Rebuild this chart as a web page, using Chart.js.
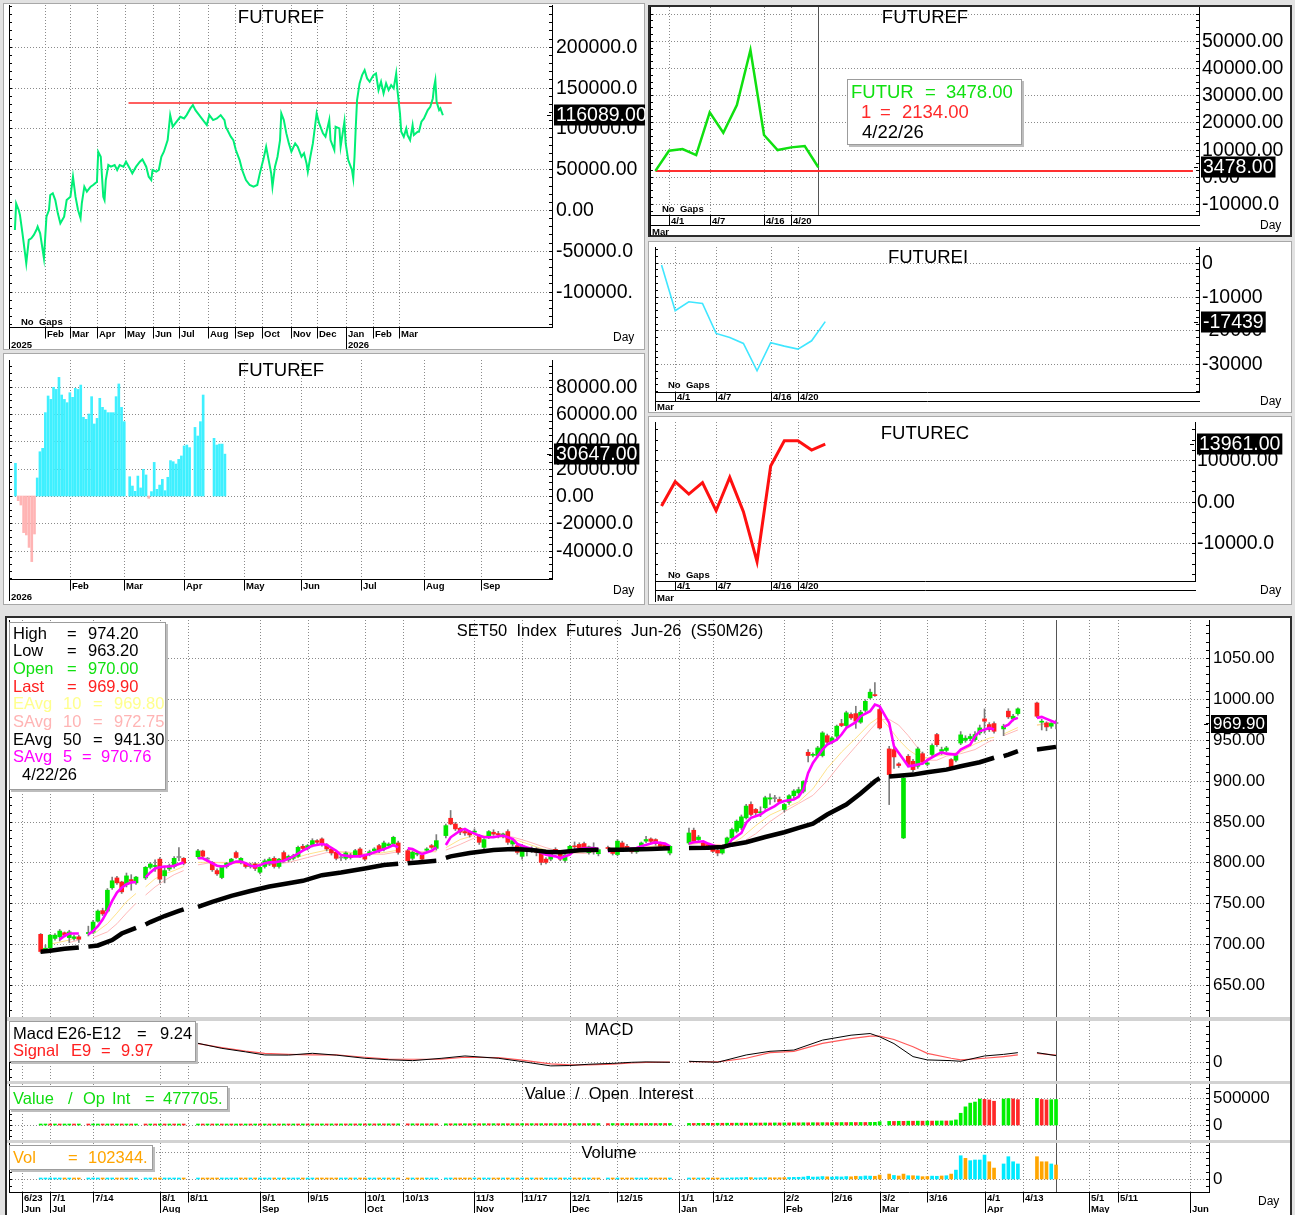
<!DOCTYPE html>
<html>
<head>
<meta charset="utf-8">
<title>SET50 Index Futures Jun-26 (S50M26)</title>
<script src="https://cdn.jsdelivr.net/npm/chart.js@4.4.0/dist/chart.umd.min.js"></script>
<style>
  html, body { margin: 0; padding: 0; background: #e2e2e2; }
  #page { position: relative; width: 1295px; height: 1215px; overflow: hidden; background: #e2e2e2; }
  .panel { position: absolute; box-sizing: border-box; background: #fff; border: 1px solid #a8a8a8; }
  .panel.sel { border: 2px solid #2c2c2c; }
  .band { position: absolute; background: #d2d2d2; }
  canvas { position: absolute; }
</style>
</head>
<body>
<div id="page">
  <div class="panel" style="left:3px;top:3px;width:642px;height:347px"></div>
  <div class="panel" style="left:3px;top:353px;width:642px;height:252px"></div>
  <div class="panel sel" style="left:648px;top:5px;width:644px;height:232px"></div>
  <div class="panel" style="left:648px;top:241px;width:644px;height:172px"></div>
  <div class="panel" style="left:648px;top:416px;width:644px;height:189px"></div>
  <div class="panel sel" style="left:5px;top:616px;width:1287px;height:602px"></div>
  <div class="band" style="left:7px;top:1017px;width:1283px;height:4px"></div>
  <div class="band" style="left:7px;top:1081px;width:1283px;height:3px"></div>
  <div class="band" style="left:7px;top:1140px;width:1283px;height:3px"></div>
</div>
<script>
// ── DATA ─────────────────────────────────────────────────────────
// top-left FUTUREF (cumulative), x = weekday index counted from 1/1/2025
const futurefCum = [
  [-1,-24500],[0,8000],[2,0],[3,-6000],[5,-28600],[7,-53000],[8,-65300],[10,-36700],[12,-34700],[14,-30600],
  [16,-24500],[17,-20400],[19,-28600],[21,-49000],[22,-59200],[24,-8200],[26,0],[27,18400],[29,20400],[31,12200],
  [33,-4100],[35,-16300],[38,-8200],[40,12200],[43,16300],[45,40800],[47,16300],[49,0],[51,-10200],[52,8200],
  [54,28600],[56,22400],[59,28600],[61,30600],[64,34700],[65,71400],[67,65300],[69,16300],[70,12200],[71,36700],
  [73,55100],[75,53100],[78,55100],[80,49000],[82,55100],[85,53100],[87,59200],[90,51000],[92,44900],[95,53100],
  [98,59200],[100,62000],[103,53100],[105,40800],[107,36700],[108,49000],[111,46900],[113,49000],[115,65300],[117,71400],
  [120,85700],[122,116300],[124,102000],[126,106100],[128,110200],[130,114300],[133,112200],[135,116300],[138,124500],[140,128600],
  [142,122400],[145,116300],[148,110200],[151,104100],[153,116300],[156,110200],[159,112200],[162,116300],[165,110200],[166,102000],
  [170,89800],[172,85700],[174,73500],[177,61200],[179,49000],[182,36700],[185,30600],[188,28600],[191,30600],[193,44900],
  [196,63300],[198,77600],[200,61200],[202,44900],[203,28600],[205,53100],[207,65300],[209,85700],[210,118400],[212,110200],
  [214,93900],[216,81600],[218,71400],[221,81600],[223,77600],[226,65300],[228,69400],[230,57100],[231,46900],[233,65300],
  [235,81600],[238,118400],[240,106100],[243,93900],[245,89800],[248,110200],[249,85700],[252,73500],[253,102000],[256,100000],
  [257,77600],[260,108200],[261,81600],[263,61200],[266,49000],[267,38800],[268,65300],[269,102000],[270,134700],[272,155100],
  [274,165300],[276,171400],[278,161200],[280,157100],[283,165300],[285,167300],[287,146900],[289,157100],[291,142900],[293,155100],
  [295,146900],[297,153100],[299,149000],[301,167300],[302,146900],[304,118400],[305,95900],[307,89800],[309,100000],[310,91800],
  [312,85700],[314,104100],[315,91800],[318,95900],[319,95900],[321,108200],[323,112200],[326,122400],[328,126500],[330,136700],
  [331,151000],[332,159200],[333,132700],[335,122400],[336,124500],[338,116089]
];
const futurefRefLine = [[89,131100],[345,131100]];
const p1Ticks = [200000,150000,100000,50000,0,-50000,-100000];
const p1TickText = ['200000.0','150000.0','100000.0','50000.00','0.00','-50000.0','-100000.'];
const p1MonthIdx = [23,43,64,86,108,129,152,173,195,218,238,261,283,303];
const p1MonthText = ['Feb','Mar','Apr','May','Jun','Jul','Aug','Sep','Oct','Nov','Dec','Jan','Feb','Mar'];

// middle-left FUTUREF daily bars, x = weekday index counted from 1/1/2026
const futurefDaily = [
  [2,23900],[3,-3400],[4,-6600],[5,-26800],[6,-28500],[7,-37600],[8,-48000],[9,-27800],[10,13200],[11,32400],
  [12,34900],[13,61000],[14,73200],[15,70700],[16,79500],[17,78000],[18,86800],[19,73900],[20,70700],[21,68300],
  [22,75600],[23,72200],[24,78800],[25,78000],[26,81200],[27,57600],[28,56100],[29,60000],[30,72700],[31,52700],
  [32,56800],[33,71500],[34,64900],[35,62900],[36,61000],[37,61000],[38,61000],[39,72700],[40,82000],[41,64900],
  [42,54400],[44,14100],[45,7300],[46,3400],[47,14600],[48,5900],[49,19500],[50,15400],[51,-1700],[52,3200],
  [53,24600],[54,4900],[55,8000],[56,12200],[57,3900],[58,13700],[59,25900],[60,25100],[61,23400],[62,26800],
  [63,29300],[64,36600],[65,37300],[66,35400],[68,50200],[69,43900],[70,54400],[71,73900],[75,42200],[76,37300],
  [77,38000],[78,38000],[79,30647]
];
const p2Ticks = [80000,60000,40000,20000,0,-20000,-40000];
const p2TickText = ['80000.00','60000.00','40000.00','20000.00','0.00','-20000.0','-40000.0'];
const p2MonthIdx = [22,42,64,86,107,129,152,173];
const p2MonthText = ['Feb','Mar','Apr','May','Jun','Jul','Aug','Sep'];

// right column, last 13 sessions (3/31 .. 4/22/26)
const futurRecent = [2134,9560,10170,7970,23650,16180,26350,46570,15320,9800,10780,11270,3478];
const futurRef = 2134;
const futureI = [-690,-14200,-11550,-12040,-20930,-22110,-23890,-31980,-23690,-24680,-25570,-23100,-17439];
const futureC = [-1050,4840,1850,4600,-2180,5890,-2420,-14500,8630,14760,14760,12500,13961];
const recentTickIdx = [1,4,8,10];
const recentTickText = ['4/1','4/7','4/16','4/20'];
const p3Ticks = [50000,40000,30000,20000,10000,0,-10000];
const p3TickText = ['50000.00','40000.00','30000.00','20000.00','10000.00','0.00','-10000.0'];
const p4Ticks = [0,-10000,-20000,-30000];
const p4TickText = ['0','-10000','-20000','-30000'];
const p5Ticks = [10000,0,-10000];
const p5TickText = ['10000.00','0.00','-10000.0'];

// SET50 futures, x = weekday index counted from 6/23/2025, first candle at index 4
const firstIdx = 4;
const opens = [
  712,693,695.5,707,709,714,708,707,709,null,
  713,714.7,728,741,740.5,769,781,776,773,779,
  775,null,781,794,795,804,783.6,792,795,806,
  805,null,null,807,814,804,800,790,781.5,795,
  800,812,800,798,795,798,788,795,798,805,
  795,812,803,805,807.4,819.7,817,821.3,826.6,828.7,
  821.3,816.4,812.3,806,805,809,809,816.4,808.2,810,
  814.3,820.5,816.4,820.5,822.5,823.8,null,814.3,805,810,
  809,814.8,820.5,817.2,null,832.8,854,847,841.8,837.7,
  837.7,837,832.8,818.4,830.7,836.9,835,832.8,837.7,822.5,
  820.5,807.4,815,814.3,816.4,813,804,804,816,810,
  802.5,813.5,820,822,823,812,817,810.6,null,818,
  814,809.6,823.8,819.7,814,813,817.6,826,828.7,827.9,
  823.8,821.7,811.5,null,null,null,823.8,839.3,827.9,823.8,
  821.7,816.4,814.8,811.5,819.7,829.9,838,842.2,854.5,870.9,
  864.8,860.7,866.8,877.5,878,877,864.8,873.4,881.6,885,
  887,934.7,931,930.7,930.7,955,947,954.3,969.8,967.4,
  981,982,971.5,986,1001.2,1005,987,null,938.8,938,
  920.5,830,929.8,923.7,917.6,933,920,932,956.4,936,
  937,925.8,925,946,949.4,951.5,950.2,958.4,975.5,968.6,
  969.8,null,963.3,985,975.5,982,null,null,null,995,
  971.5,970.6,966.6,970
];
const highs = [
  713,699,712,713,718,715,717,711,711,null,
  722,729,742,744,768,782,783,777,787,785,
  783,null,795,800,803,806,794,798,807,818,
  806,null,null,816,815,806,801,792,796,800,
  805,814,806,800,799,800,796,804,806,807,
  805,814,809,810,820,822,822,829,828,830,
  823,818,814,809,813,811,816,818,810,815,
  818,822,826,824,832,826,null,816,814,813,
  811,818,822,834,null,847,863.5,849,843,841,
  839,841,834,829,839,840,838,836,840,828,
  822,822,818,819,818,815,806,813,818,812,
  811,821,825,824,825,820,824,817,null,820,
  816,828,826,822,816,818,825,832,830,829,
  825,823,821,null,null,null,842,842,833,826,
  823,818,816,819,831,842,852,858,871,874,
  866,868,881,884,882,880,872,883,889,892,
  900,938,934,942,960,957,954,968,975,985,
  983,991,986,999,1012,1020,989,null,942,941,
  922,905,932,926,941,935,924,945,958,941,
  942,927,933,960,955,957,960,968,987.8,971,
  972,null,969,988,981,989,null,null,null,996,
  975,972,971,974.2
];
const lows = [
  689,691,694,705,704,709,702,705,702,null,
  710,713,727,735,739,767,773,762,770,766,
  773,null,779,792,789,775,775,790,793,802,
  797,null,null,805,806,801,789,784,780,793,
  798,805,798,793,793,790,786,793,796,793,
  793,800,801,803,806,815,815,819,822,820,
  814,809,803,802,803,804,807,806,802,808,
  812,812,814,818,820,810,null,800,803,808,
  802,813,817,815,null,830,846,839,834,833,
  831,835,822,816,829,833,830,830,822,820,
  810,804,808,812,808,797,798,802,812,802,
  800,811,815,816,816,810,810,808,null,815,
  809,808,816,814,811,811,816,824,824,821,
  818,816,809,null,null,null,822,824,826,818,
  818,812,808,810,818,828,836,840,853,857,
  857,856,865,871,874,872,862,871,879,882,
  885,923,929,929,929,945,945,952,966,965,
  975,964,970,984,1000,1003,963,null,870.7,915,
  916,829,917,911,915,920,918,930,942,932,
  935,914,923,944,947,949,948,956,958,960,
  958,null,955,976,973,980,null,null,null,977,
  962,961,964,963.2
];
const closes = [
  691,695,711,711,716,711,715,709,706,null,
  714,727,740.5,737,766,777.5,775,764,783.5,777,
  782,null,794,798,796,779.5,790,796,805,806,
  799,null,null,814,807.5,804,791,786,795,799,
  804,806,805,795,797,792.6,794,802,804,795,
  804,802,807.4,808,818.4,817,820.5,826.6,824.6,822,
  816.4,811.5,805,805.5,811.5,806,814.3,808.2,804,813,
  816.4,814.3,823.8,822.5,830.7,812.3,null,802,812.3,811,
  804,816.4,818.4,826.6,null,845,847,841,837,836,
  833.6,838,824.6,827.9,837.7,834.8,834,834.8,824.6,826.6,
  812.3,820.5,816,817,812.3,800,800,811,813.5,804,
  809,819.7,819,818,818,819,818,815.6,null,817,
  811,826,817.6,815.6,813,816,823.8,828,825.8,823,
  819.7,817.6,819.7,null,null,null,836,825.8,831,819.7,
  819.7,813.5,811.5,817.6,829.9,840.2,850.4,855.7,868.9,858.6,
  860.7,861.5,879.1,879,878.5,874,870.9,881.6,887.3,889,
  899,930.7,932,940,958.4,947,952.3,966.6,967.4,983,
  976.8,972.7,983.7,997,1008.2,1004,964.5,null,907.4,929,
  918.5,903,919.7,913.5,938.8,922.5,921.7,943,944,938,
  940,915.6,930.7,956,952,954,956.4,964.5,972.7,962.5,
  960.4,null,966.6,978,978.8,987.8,null,null,null,978.8,
  972.7,965.7,970,969.9
];
const volume = [
  6000,3000,4000,3000,3500,3000,4000,3000,3000,null,
  3000,4000,3500,3000,4500,4000,3000,3500,4000,3000,
  3000,null,3500,3000,3000,4500,4000,3000,3500,3000,
  3000,null,null,3500,3000,3000,4000,3500,4000,3000,
  3000,3500,3000,3000,3000,3500,3000,3000,3500,3000,
  3000,3500,3000,3000,3500,3000,3000,3500,3000,3000,
  3500,3000,3500,3000,3000,3000,3500,3000,3000,3000,
  3000,3000,3500,3000,3500,4000,null,4000,3500,3000,
  3000,3000,3000,3500,null,4000,4500,3500,3500,3000,
  3000,3000,3500,3500,3500,3000,3000,3000,3500,3000,
  3500,4000,3000,3000,3000,4000,3500,3500,3000,3500,
  3500,3500,3000,3000,3000,3500,3000,3000,null,3000,
  3000,4000,3500,3000,3000,3500,3500,4000,3000,3000,
  3500,3000,3500,null,null,null,5000,6000,5000,5500,
  5000,5500,6000,6000,7000,8000,9000,9500,11000,10000,
  8000,9000,10000,9000,8500,9000,10000,11000,12000,12500,
  14000,20000,14000,15000,18000,16000,14000,17000,15000,18000,
  16000,20000,18000,22000,21000,20000,29000,null,36000,26000,
  22000,36000,24000,24000,22000,17000,18000,21000,20000,22000,
  24000,36000,65000,170000,151000,134000,139000,139000,175000,126000,
  80000,null,110000,163000,126000,110000,null,null,null,163000,
  126000,126000,110000,102344
];
const openInt = [
  12000,12500,12000,12800,12400,13000,13500,13200,13800,null,
  13500,14000,14500,14200,14800,14500,15000,14700,15200,15000,
  15500,null,15200,15800,15500,16000,15800,16200,16000,16500,
  16200,null,null,16800,16500,17000,16800,17200,17000,17500,
  17200,17800,17500,18000,17800,18200,18000,18500,18200,18800,
  18500,19000,18800,19200,19000,19500,19200,19800,19500,20000,
  19800,20200,20000,20500,20200,20800,20500,21000,20800,21200,
  21000,21500,21200,21800,21500,22000,null,21800,22200,22000,
  22500,22200,22800,22500,null,23000,22800,23200,23000,23500,
  23200,23800,23500,24000,23800,24200,24000,24500,24200,24800,
  24500,25000,24800,25200,25000,25500,25200,25800,25500,26000,
  25800,26200,26000,26500,26200,26800,26500,27000,null,26800,
  27200,27000,27500,27200,27800,27500,28000,27800,28200,28000,
  28500,28200,28800,null,null,null,30000,29500,31000,30500,
  32000,31500,33000,32500,34000,33500,35000,34500,36000,35500,
  37000,36500,38000,37500,39000,38500,40000,39500,41000,40500,
  42000,41500,43000,42500,44000,43500,45000,44500,46000,45500,
  47000,46500,48000,47500,49000,50000,62000,null,68000,67000,
  70000,69000,72000,71000,73000,72000,74000,73000,75000,76000,
  75000,78000,95000,220000,340000,410000,430000,485000,480000,470000,
  445000,null,485000,495000,488000,475000,null,null,null,498000,
  478000,470000,474000,477705
];
// studies: [weekday index, value], null = break
const ema50Pts = [
  [4,690.6],[6,692],[9,694.3],[12,696],[13,null],[14,697],[16,698.4],[19,705],[21,713],[24,720],
  [25,null],[26,724],[27,727],[30,734.4],[33,740.6],[34,742.5],[35,null],[37,745.5],[40,751.6],[44,759],
  [48,765],[52,770.5],[56,774.6],[59,777.5],[63,784.4],[67,787.7],[72,792.6],[76,796.7],[79,798.4],[80,null],
  [81,799],[83,800],[87,802],[88,null],[89,805.5],[90,807.4],[94,811.5],[99,815.2],[103,816.4],[107,815.2],
  [110,813],[113,812.3],[117,814.8],[121,815.6],[122,null],[123,815.6],[126,815.6],[132,816.4],[136,817.2],[137,null],
  [140,817.5],[144,818],[147,818.9],[149,821.7],[152,824.6],[156,831.1],[160,836.9],[163,842.2],[166,847.5],[169,858.5],
  [173,870.7],[176,884.2],[179,899.3],[180,903],[181,null],[182,905],[184,906],[187,907.4],[190,910.3],[194,913.5],
  [197,917.6],[201,922.5],[204,928],[205,null],[206,930],[207,931.9],[209,936],[210,null],[213,938],[217,941.3]
];
const sma5Pts = [
  [8,705.7],[9,710],[10,713],[12,713],[13,null],[14,712],[15,716],[16,722],[17,730],[18,740.6],
  [19,753],[20,763],[21,769],[22,773.4],[23,775.4],[24,776],[25,null],[26,781.6],[27,787.7],[28,792.6],
  [29,794],[30,795],[31,795],[32,796],[33,798],[34,800],[35,null],[37,805],[38,805],[39,802],
  [40,799],[41,796],[42,795],[43,796],[44,799],[45,801],[46,801],[47,799],[48,796],[49,795],
  [50,796.7],[51,799],[52,800],[53,800],[54,801],[55,802],[57,807.4],[59,814.3],[61,820.5],[63,822.5],
  [64,821.3],[66,814.3],[67,809],[69,807.4],[71,807.4],[73,810.2],[75,814.3],[77,818.4],[78,821.3],[79,818.4],
  [80,null],[81,817.2],[82,816.4],[84,810.2],[86,814.3],[87,818.4],[88,null],[89,821.3],[90,830.7],[92,838.9],
  [93,841],[94,837.7],[96,832.8],[97,830.7],[99,830.7],[100,832],[101,832.8],[103,828.7],[104,822.5],[106,818.4],
  [107,816.4],[108,814.3],[110,809.5],[112,807.4],[113,805.3],[115,809.4],[116,814.8],[118,817.6],[120,817.6],[121,816.4],
  [122,null],[123,813.5],[125,815.6],[127,816.4],[129,817.6],[130,819.7],[132,823],[133,824.6],[135,823],[136,819.7],
  [137,null],[140,823],[141,824.6],[143,825.8],[144,823],[146,818.9],[147,817.6],[148,819.7],[149,827.9],[151,836],
  [152,848.4],[153,854.5],[155,858.6],[156,862.7],[158,868.9],[159,873],[160,875],[162,877],[163,880.3],[164,889],
  [165,909.5],[166,921.7],[168,938],[169,944],[171,950.2],[172,956.4],[173,964.5],[175,971.5],[176,978.8],[178,985],
  [179,993],[180,991],[182,970.6],[183,942],[185,925.8],[186,917.6],[187,918.4],[189,921],[190,925],[192,931.9],
  [193,934.7],[194,933],[196,931.9],[197,938],[199,944],[200,954.3],[201,960.4],[203,964.5],[204,962.5],[205,null],
  [206,965.7],[207,968.6],[208,974.7],[209,976.8],[210,null],[213,976.8],[214,978],[215,975.5],[217,970.76]
];
const ema10Pts = [
  [6,700],[10,705],[12,708],[13,null],[15,712],[18,725],[20,738],[22,752],[24,762],[25,null],
  [26,770],[28,780],[30,786],[32,790],[34,795],[35,null],[37,800],[40,800],[44,799],[48,798],
  [52,799],[56,803],[60,810],[64,815],[68,812],[72,810],[76,812],[79,815],[80,null],[81,813],
  [84,812],[87,814],[88,null],[89,818],[92,828],[95,833],[99,832],[103,829],[106,823],[110,815],
  [114,811],[118,813],[121,815],[122,null],[123,815],[126,816],[130,818],[134,821],[136,820],[137,null],
  [140,822],[142,824],[145,821],[148,820],[151,830],[154,845],[157,858],[160,866],[163,874],[166,890],
  [169,915],[172,935],[175,952],[178,970],[180,978],[182,965],[184,950],[186,938],[188,930],[190,928],
  [192,930],[194,932],[197,935],[200,945],[203,952],[204,953],[205,null],[206,957],[209,965],[210,null],
  [213,968],[217,969.8]
];
const sma10Pts = [
  [10,702],[12,705],[13,null],[15,708],[18,715],[20,725],[22,738],[24,750],[25,null],[26,760],
  [28,770],[30,778],[32,785],[34,790],[35,null],[37,797],[40,800],[44,800],[48,799],[52,797],
  [56,800],[60,806],[64,812],[68,813],[72,810],[76,810],[79,813],[80,null],[81,814],[84,813],
  [87,813],[88,null],[89,815],[92,822],[95,830],[99,834],[103,831],[106,826],[110,818],[114,812],
  [118,811],[121,813],[122,null],[123,814],[126,815],[130,817],[134,820],[136,821],[137,null],[140,822],
  [142,823],[145,822],[148,821],[151,824],[154,835],[157,850],[160,862],[163,872],[166,882],[169,900],
  [172,922],[175,942],[178,962],[180,975],[182,975],[184,968],[186,955],[188,940],[190,925],[192,925],
  [194,930],[197,933],[200,938],[203,948],[204,950],[205,null],[206,955],[209,962],[210,null],[213,968],
  [217,972.75]
];
const macdPts = [
  [37,26.4],[42,19.4],[47,14.5],[51,10.2],[56,10],[61,12.5],[66,10],[72,5.6],[77,3.5],[82,2.3],
  [88,5.5],[93,8.8],[100,5.6],[105,1],[111,-5],[115,-4.5],[119,-2.7],[124,-1.5],[128,0],[131,0.5],
  [136,0],[138,null],[140,1.4],[146,0],[152,10.2],[157,15.3],[162,17],[168,30.8],[174,37.7],[178,40],
  [180,35.4],[183,26],[187,7.9],[190,3.3],[195,2.3],[197,1.4],[202,8.8],[206,11],[209,13.4],[211,null],
  [213,13.4],[217,9.24]
];
const signalPts = [
  [37,26],[42,20.5],[47,15.5],[51,12.5],[56,11],[61,10.2],[66,10.5],[72,7],[77,4.5],[82,4.2],
  [88,4.5],[93,7],[100,6.5],[105,3],[111,-2.3],[115,-3.5],[119,-3.6],[124,-2.5],[128,-1],[131,0],
  [136,0.3],[138,null],[140,0.8],[146,0.5],[152,5.6],[157,13.4],[162,15.3],[168,26.2],[174,33],[178,36.3],
  [180,36.3],[183,31.7],[187,21.7],[190,12.5],[195,5.6],[197,3.3],[202,5.6],[206,8],[209,10.2],[211,null],
  [213,12.5],[217,9.97]
];
const lastIdx = 217;
const mainTicks = [1050,1000,950,900,850,800,750,700,650];
const mainTickText = ['1050.00','1000.00','950.00','900.00','850.00','800.00','750.00','700.00','650.00'];
const dayTickIdx = [0,6,15,29,35,50,60,72,80,95,105,115,125,138,145,160,170,180,190,202,210,224,230];
const dayTickText = ['6/23','7/1','7/14','8/1','8/11','9/1','9/15','10/1','10/13','11/3','11/17','12/1','12/15','1/1','1/12','2/2','2/16','3/2','3/16','4/1','4/13','5/1','5/11'];
const monthTickIdx = [0,6,29,50,72,95,115,138,160,180,202,224,245];
const monthTickText = ['Jun','Jul','Aug','Sep','Oct','Nov','Dec','Jan','Feb','Mar','Apr','May','Jun'];

// ── HELPERS ──────────────────────────────────────────────────────
const PAGE = document.getElementById('page');
const SANS = '"Liberation Sans", Arial, Helvetica, sans-serif';
const NARROW = '"Liberation Sans Narrow", "Arial Narrow", "Liberation Sans", Arial, sans-serif';
const pts = arr => arr.map(([x, y]) => ({ x, y }));

function hv(ctx, x1, y1, x2, y2) {
    ctx.beginPath(); ctx.moveTo(x1, y1); ctx.lineTo(x2, y2); ctx.stroke();
}

function put(ctx, s, x, y, size, color, opt) {
    opt = opt || {};
    ctx.font = (opt.bold ? 'bold ' : '') + size + 'px ' + (opt.family || SANS);
    ctx.fillStyle = color;
    ctx.textAlign = opt.align || 'left';
    ctx.textBaseline = opt.base || 'middle';
    ctx.fillText(s, x, y);
}

function legendBox(ctx, x, y, w, h) {
    ctx.fillStyle = '#bdbdbd'; ctx.fillRect(x + 2, y + 2, w, h);
    ctx.fillStyle = '#fff'; ctx.fillRect(x, y, w, h);
    ctx.strokeStyle = '#9c9c9c'; ctx.lineWidth = 1; ctx.setLineDash([]);
    ctx.strokeRect(x + 0.5, y + 0.5, w - 1, h - 1);
}

function drawStrip(ctx, chart, s) {
    const a = chart.chartArea, x = chart.scales.x;
    const b = Math.round(a.bottom) + 0.5;
    ctx.strokeStyle = '#000'; ctx.lineWidth = 1; ctx.setLineDash([]);
    hv(ctx, a.left, b, a.right, b);
    if (s.sep) hv(ctx, a.left, b + s.h1, a.right, b + s.h1);
    ctx.font = 'bold 9.5px ' + NARROW; ctx.fillStyle = '#000';
    ctx.textAlign = 'left'; ctx.textBaseline = 'alphabetic';
    s.row1.forEach(([v, t]) => {
        const p = Math.round(x.getPixelForValue(v)) + 0.5;
        hv(ctx, p, b, p, b + s.h1);
        ctx.fillText(t, p + 1.5, b + s.h1 - 1.5);
    });
    s.row2.forEach(([v, t]) => {
        const p = Math.max(a.left + 0.5, Math.round(x.getPixelForValue(v)) + 0.5);
        hv(ctx, p, b, p, b + s.h1 + s.h2);
        ctx.fillText(t, p + 1.5, b + s.h1 + s.h2 - 1.5);
    });
}

function lineDs(data, color, width, order) {
    return { type: 'line', data, borderColor: color, borderWidth: width, pointRadius: 0,
             tension: 0, spanGaps: false, fill: false, order };
}

function barDs(data, color, thickness, order, minLen) {
    return { type: 'bar', data, backgroundColor: color, borderWidth: 0, barThickness: thickness,
             grouped: false, order, minBarLength: minLen || 0 };
}

function makePanel(o) {
    const cw = o.plotW + o.axisW, ch = o.plotH + (o.stripH || 0);
    const cv = document.createElement('canvas');
    cv.width = cw; cv.height = ch;
    Object.assign(cv.style, { left: o.x + 'px', top: o.y + 'px', width: cw + 'px', height: ch + 'px' });
    PAGE.appendChild(cv);

    const deco = {
        id: 'deco',
        beforeDatasetsDraw(chart) {
            const { ctx, chartArea: a, scales: { x, y } } = chart;
            ctx.save();
            ctx.strokeStyle = '#8a8a8a'; ctx.lineWidth = 1; ctx.setLineDash([1, 2]);
            (o.xGrid || []).forEach(v => {
                const p = Math.round(x.getPixelForValue(v)) + 0.5;
                hv(ctx, p, a.top, p, a.bottom);
            });
            (o.yGrid || []).forEach(v => {
                const p = Math.round(y.getPixelForValue(v)) + 0.5;
                hv(ctx, a.left, p, a.right, p);
            });
            ctx.setLineDash([]);
            if (o.vLine != null) {
                const p = Math.round(x.getPixelForValue(o.vLine)) + 0.5;
                ctx.strokeStyle = '#555';
                hv(ctx, p, a.top, p, a.bottom);
            }
            ctx.restore();
        },
        afterDraw(chart) {
            const { ctx, chartArea: a, scales: { x, y } } = chart;
            ctx.save();
            ctx.setLineDash([]);
            ctx.strokeStyle = '#000'; ctx.lineWidth = 1;
            hv(ctx, a.left + 0.5, a.top, a.left + 0.5, a.bottom);
            hv(ctx, a.right - 0.5, a.top, a.right - 0.5, a.bottom);
            if (o.minor) {
                for (let v = Math.ceil(o.yMin / o.minor) * o.minor; v <= o.yMax; v += o.minor) {
                    const p = Math.round(y.getPixelForValue(v)) + 0.5;
                    hv(ctx, a.right - 4, p, a.right, p);
                    hv(ctx, a.left, p, a.left + 3, p);
                }
            }
            (o.yLabels || []).forEach(([v, t]) =>
                put(ctx, t, a.right + o.labelPad, Math.round(y.getPixelForValue(v)) + 0.5, o.labelSize, '#000'));
            if (o.tag) {
                const [v, t] = o.tag;
                const p = Math.round(y.getPixelForValue(v));
                ctx.font = o.labelSize + 'px ' + SANS;
                const w = ctx.measureText(t).width + 4, h = Math.round(o.labelSize) + 1;
                ctx.fillStyle = '#000';
                ctx.fillRect(a.right + 1, p - h / 2, w, h);
                put(ctx, t, a.right + 3, p + 0.5, o.labelSize, '#fff');
                ctx.strokeStyle = '#000';
                hv(ctx, a.right - 6, p + 0.5, a.right - 2, p + 0.5);
            }
            if (o.strip) drawStrip(ctx, chart, o.strip);
            if (o.extra) {
                ctx.save();
                ctx.translate(-o.x, -o.y);
                o.extra(ctx, chart);
                ctx.restore();
            }
            ctx.restore();
        }
    };

    return new Chart(cv, {
        type: 'bar',
        data: { datasets: o.datasets },
        options: {
            responsive: false,
            animation: false,
            devicePixelRatio: 1,
            events: [],
            layout: { padding: { left: 0, top: 0, right: o.axisW, bottom: o.stripH || 0 } },
            plugins: { legend: { display: false }, tooltip: { enabled: false } },
            scales: {
                x: { type: 'linear', min: o.xMin, max: o.xMax, display: false, offset: false },
                y: { type: 'linear', min: o.yMin, max: o.yMax, display: false }
            }
        },
        plugins: [deco]
    });
}

// ── TOP LEFT: FUTUREF ────────────────────────────────────────────
makePanel({
    x: 9, y: 5, plotW: 544, plotH: 322, axisW: 92, stripH: 22,
    xMin: -5.67, xMax: 425.2, yMin: -143382, yMax: 251225,
    xGrid: p1MonthIdx, yGrid: p1Ticks, minor: 10000,
    yLabels: p1Ticks.map((v, i) => [v, p1TickText[i]]), labelPad: 3, labelSize: 19.5,
    tag: [116089, '116089.00'],
    strip: { h1: 11, h2: 11, row1: p1MonthIdx.map((v, i) => [v, p1MonthText[i]]), row2: [[-5.67, '2025'], [261, '2026']] },
    datasets: [
        lineDs(pts(futurefRefLine), '#ff2a2a', 1.6, 2),
        lineDs(pts(futurefCum), 'rgb(0,238,118)', 2, 1)
    ],
    extra(ctx) {
        put(ctx, 'FUTUREF', 281, 18, 18.5, '#000', { align: 'center' });
        put(ctx, 'No  Gaps', 21, 322, 9.5, '#000', { bold: true, family: NARROW });
        put(ctx, 'Day', 613, 338, 12, '#000');
    }
});

// ── MIDDLE LEFT: FUTUREF daily ───────────────────────────────────
makePanel({
    x: 9, y: 360, plotW: 544, plotH: 219, axisW: 92, stripH: 22,
    xMin: -0.37, xMax: 199.6, yMin: -60739, yMax: 99524,
    xGrid: p2MonthIdx, yGrid: p2Ticks, minor: 5000,
    yLabels: p2Ticks.map((v, i) => [v, p2TickText[i]]), labelPad: 3, labelSize: 19.5,
    tag: [30647, '30647.00'],
    strip: { h1: 11, h2: 11, row1: p2MonthIdx.map((v, i) => [v, p2MonthText[i]]), row2: [[-0.37, '2026']] },
    datasets: [
        barDs(pts(futurefDaily), c => (c.raw && c.raw.y < 0) ? '#ffb4b4' : '#3ff0ff', 2, 1)
    ],
    extra(ctx) {
        put(ctx, 'FUTUREF', 281, 371, 18.5, '#000', { align: 'center' });
        put(ctx, 'Day', 613, 591, 12, '#000');
    }
});

// ── TOP RIGHT: FUTUREF recent ────────────────────────────────────
const recentStrip = sep => ({ h1: sep[0], h2: sep[1], sep: true, row1: recentTickIdx.map((v, i) => [v, recentTickText[i]]), row2: [[-1, 'Mar']] });
makePanel({
    x: 650, y: 7, plotW: 550, plotH: 208, axisW: 90, stripH: 21,
    xMin: -0.4, xMax: 40.12, yMin: -14081, yMax: 62390,
    xGrid: recentTickIdx, yGrid: [60000].concat(p3Ticks), minor: 2500, vLine: 12,
    yLabels: p3Ticks.map((v, i) => [v, p3TickText[i]]), labelPad: 2, labelSize: 19.5,
    tag: [3478, '3478.00'],
    strip: recentStrip([10, 11]),
    datasets: [
        lineDs(pts([[0, futurRef], [39.6, futurRef]]), '#ff3030', 2, 2),
        lineDs(futurRecent.map((v, i) => ({ x: i, y: v })), '#10e010', 2.5, 1)
    ],
    extra(ctx) {
        put(ctx, 'FUTUREF', 925, 18, 18.5, '#000', { align: 'center' });
        put(ctx, 'No  Gaps', 662, 209, 9.5, '#000', { bold: true, family: NARROW });
        put(ctx, 'Day', 1260, 226, 12, '#000');
        legendBox(ctx, 847, 79, 175, 66);
        put(ctx, 'FUTUR', 851, 93, 18.5, '#10e010');
        put(ctx, '=', 925, 93, 18.5, '#10e010');
        put(ctx, '3478.00', 946, 93, 18.5, '#10e010');
        put(ctx, '1', 861, 113, 18.5, '#ff2a2a');
        put(ctx, '=', 880, 113, 18.5, '#ff2a2a');
        put(ctx, '2134.00', 902, 113, 18.5, '#ff2a2a');
        put(ctx, '4/22/26', 862, 133, 18.5, '#000');
    }
});

// ── RIGHT: FUTUREI ───────────────────────────────────────────────
makePanel({
    x: 655, y: 247, plotW: 545, plotH: 145, axisW: 89, stripH: 19,
    xMin: -0.48, xMax: 39.47, yMin: -38254, yMax: 4645,
    xGrid: recentTickIdx, yGrid: p4Ticks, minor: 2000,
    yLabels: p4Ticks.map((v, i) => [v, p4TickText[i]]), labelPad: 2, labelSize: 19.5,
    tag: [-17439, '-17439'],
    strip: recentStrip([9, 10]),
    datasets: [lineDs(futureI.map((v, i) => ({ x: i, y: v })), '#3fe6ff', 1.6, 1)],
    extra(ctx) {
        put(ctx, 'FUTUREI', 928, 258, 18.5, '#000', { align: 'center' });
        put(ctx, 'No  Gaps', 668, 385, 9.5, '#000', { bold: true, family: NARROW });
        put(ctx, 'Day', 1260, 402, 12, '#000');
    }
});

// ── RIGHT: FUTUREC ───────────────────────────────────────────────
makePanel({
    x: 655, y: 422, plotW: 541, plotH: 159, axisW: 93, stripH: 21,
    xMin: -0.48, xMax: 39.18, yMin: -19201, yMax: 19298,
    xGrid: recentTickIdx, yGrid: p5Ticks, minor: 2500,
    yLabels: p5Ticks.map((v, i) => [v, p5TickText[i]]), labelPad: 1, labelSize: 19.5,
    tag: [13961, '13961.00'],
    strip: recentStrip([9, 12]),
    datasets: [lineDs(futureC.map((v, i) => ({ x: i, y: v })), '#ff1010', 3, 1)],
    extra(ctx) {
        put(ctx, 'FUTUREC', 925, 434, 18.5, '#000', { align: 'center' });
        put(ctx, 'No  Gaps', 668, 575, 9.5, '#000', { bold: true, family: NARROW });
        put(ctx, 'Day', 1260, 591, 12, '#000');
    }
});

// ── BOTTOM: SET50 futures price ──────────────────────────────────
const MX = { xMin: -2.643, xMax: 249.3 };
const wicks = [], bodies = [];
opens.forEach((o, i) => {
    if (o === null) return;
    const x = firstIdx + i, c = closes[i];
    wicks.push({ x, y: [lows[i], highs[i]] });
    bodies.push({ x, y: [Math.min(o, c), Math.max(o, c)], dir: Math.abs(c - o) < 0.6 ? 0 : (c > o ? 1 : -1) });
});
const bodyColor = c => !c.raw ? '#888' : (c.raw.dir > 0 ? '#00e600' : (c.raw.dir < 0 ? '#ff2020' : '#8a8a8a'));

makePanel({
    x: 9, y: 620, plotW: 1201, plotH: 397, axisW: 79, stripH: 0,
    xMin: MX.xMin, xMax: MX.xMax, yMin: 610.9, yMax: 1096.5,
    xGrid: monthTickIdx.concat(dayTickIdx), yGrid: mainTicks, minor: 10, vLine: lastIdx,
    yLabels: mainTicks.map((v, i) => [v, mainTickText[i]]), labelPad: 3, labelSize: 17,
    tag: [969.9, '969.90'],
    datasets: [
        lineDs(pts(sma10Pts), '#ffb8b8', 1, 6),
        lineDs(pts(ema10Pts), '#ffe28a', 1, 5),
        barDs(wicks, '#7c7c7c', 1, 4),
        barDs(bodies, bodyColor, 4, 3, 1),
        lineDs(pts(sma5Pts), '#ff00ff', 2.6, 2),
        lineDs(pts(ema50Pts), '#000000', 4.5, 1)
    ],
    extra(ctx) {
        put(ctx, 'SET50  Index  Futures  Jun-26  (S50M26)', 610, 631, 16.5, '#000', { align: 'center' });
        legendBox(ctx, 9, 622, 157, 168);
        const rows = [
            [['High', 13], ['=', 67], ['974.20', 88], '#000'],
            [['Low', 13], ['=', 67], ['963.20', 88], '#000'],
            [['Open', 13], ['=', 67], ['970.00', 88], '#10e010'],
            [['Last', 13], ['=', 67], ['969.90', 88], '#ff2020'],
            [['EAvg', 13], ['10', 63], ['=', 93], ['969.80', 114], '#ffff8c'],
            [['SAvg', 13], ['10', 63], ['=', 93], ['972.75', 114], '#ffb4b4'],
            [['EAvg', 13], ['50', 63], ['=', 93], ['941.30', 114], '#000'],
            [['SAvg', 13], ['5', 63], ['=', 82], ['970.76', 101], '#ff00ff'],
            [['4/22/26', 22], '#000']
        ];
        rows.forEach((r, k) => {
            const color = r[r.length - 1];
            r.slice(0, -1).forEach(([t, x]) => put(ctx, t, x, 634 + k * 17.7, 16.5, color));
        });
    }
});

// ── MACD ─────────────────────────────────────────────────────────
makePanel({
    x: 9, y: 1021, plotW: 1201, plotH: 60, axisW: 79, stripH: 0,
    xMin: MX.xMin, xMax: MX.xMax, yMin: -26, yMax: 57.4,
    xGrid: monthTickIdx.concat(dayTickIdx), yGrid: [0], minor: 10, vLine: lastIdx,
    yLabels: [[0, '0']], labelPad: 3, labelSize: 17,
    datasets: [
        lineDs(pts(signalPts), '#ff5a5a', 1.2, 2),
        lineDs(pts(macdPts), '#000', 1, 1)
    ],
    extra(ctx) {
        put(ctx, 'MACD', 609, 1030, 16.5, '#000', { align: 'center' });
        legendBox(ctx, 9, 1021, 187, 41);
        [['Macd', 13], ['E26-E12', 57], ['=', 137], ['9.24', 160]].forEach(([t, x]) => put(ctx, t, x, 1034, 16.5, '#000'));
        [['Signal', 13], ['E9', 71], ['=', 101], ['9.97', 121]].forEach(([t, x]) => put(ctx, t, x, 1051, 16.5, '#ff2020'));
    }
});

// ── VALUE / OPEN INTEREST ────────────────────────────────────────
const oiBars = [];
let prevOi = null;
openInt.forEach((v, i) => {
    if (v === null) return;
    oiBars.push({ x: firstIdx + i, y: v, up: prevOi === null || v >= prevOi });
    prevOi = v;
});
makePanel({
    x: 9, y: 1084, plotW: 1201, plotH: 56, axisW: 79, stripH: 0,
    xMin: MX.xMin, xMax: MX.xMax, yMin: -280899, yMax: 767790,
    xGrid: monthTickIdx.concat(dayTickIdx), yGrid: [0, 500000], minor: 100000, vLine: lastIdx,
    yLabels: [[500000, '500000'], [0, '0']], labelPad: 3, labelSize: 17,
    datasets: [barDs(oiBars, c => (c.raw && c.raw.up) ? '#00f000' : '#ff2828', 3, 1, 1)],
    extra(ctx) {
        put(ctx, 'Value  /  Open  Interest', 609, 1094, 16.5, '#000', { align: 'center' });
        legendBox(ctx, 9, 1086, 219, 24);
        [['Value', 13], ['/', 68], ['Op', 83], ['Int', 112], ['=', 145], ['477705.', 163]]
            .forEach(([t, x]) => put(ctx, t, x, 1099, 16.5, '#10dd10'));
    }
});

// ── VOLUME ───────────────────────────────────────────────────────
const volBars = [];
let prevClose = null;
volume.forEach((v, i) => {
    if (v === null) return;
    const c = closes[i];
    volBars.push({ x: firstIdx + i, y: v, up: prevClose === null || c >= prevClose });
    prevClose = c;
});
makePanel({
    x: 9, y: 1143, plotW: 1201, plotH: 49, axisW: 79, stripH: 21,
    xMin: MX.xMin, xMax: MX.xMax, yMin: -95030, yMax: 263160,
    xGrid: monthTickIdx.concat(dayTickIdx), yGrid: [0, 200000], minor: 50000, vLine: lastIdx,
    yLabels: [[0, '0']], labelPad: 3, labelSize: 17,
    strip: { h1: 10, h2: 11, row1: dayTickIdx.map((v, i) => [v, dayTickText[i]]), row2: monthTickIdx.map((v, i) => [v, monthTickText[i]]) },
    datasets: [barDs(volBars, c => (c.raw && c.raw.up) ? '#00eaff' : '#ffa500', 3, 1, 1)],
    extra(ctx) {
        put(ctx, 'Volume', 609, 1153, 16.5, '#000', { align: 'center' });
        legendBox(ctx, 9, 1145, 144, 25);
        [['Vol', 13], ['=', 68], ['102344.', 88]].forEach(([t, x]) => put(ctx, t, x, 1158, 16.5, '#ffa500'));
        put(ctx, 'Day', 1258, 1202, 12, '#000');
    }
});
</script>
</body>
</html>
